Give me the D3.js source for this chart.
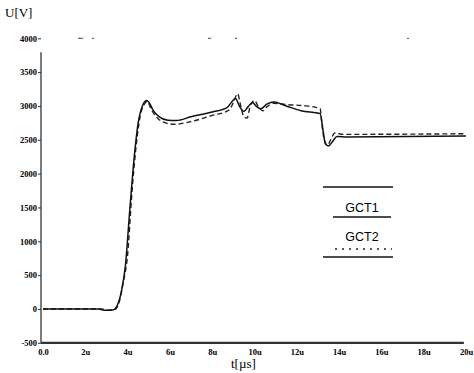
<!DOCTYPE html>
<html><head><meta charset="utf-8">
<script src="https://cdn.jsdelivr.net/npm/d3@7"></script>
<style>body{margin:0;background:#fff}svg{display:block}</style>
</head><body><svg id="c" width="474" height="373"></svg>
<script>
const xTickValues = [0,2,4,6,8,10,12,14,16,18,20];
const xTickLabels = ["0.0","2u","4u","6u","8u","10u","12u","14u","16u","18u","20u"];
const yTickValues = [4000,3500,3000,2500,2000,1500,1000,500,0,-500];
const yTickLabels = ["4000","3500","3000","2500","2000","1500","1000","500","0","-500"];
const seriesNames = ["GCT1","GCT2"];
const gct1T = [0,2.6,2.9,3.3,3.45,3.7,3.9,4.1,4.3,4.5,4.7,4.9,5.0,5.2,5.5,5.9,6.3,7,8,8.7,8.95,9.1,9.3,9.5,9.7,9.9,10.1,10.3,10.6,10.9,11.5,12.2,13.1,13.25,13.35,13.5,13.7,13.9,14.4,20];
const gct1V = [0,0,-20,-15,20,250,650,1450,2200,2750,3000,3080,3060,2940,2840,2790,2785,2840,2910,2975,3070,3110,2990,2920,2990,3050,2990,2960,3030,3060,3000,2930,2890,2620,2440,2410,2480,2550,2540,2555];
const gct2T = [0,2.8,3.0,3.4,3.6,3.8,4.0,4.2,4.4,4.6,4.8,4.94,5.1,5.3,5.7,6.2,7,8,8.8,9.0,9.2,9.35,9.5,9.65,9.8,10.0,10.2,10.4,10.6,10.9,11.5,12.3,12.9,13.1,13.2,13.3,13.45,13.6,13.8,14.2,20];
const gct2V = [0,0,-20,-10,100,400,800,1700,2400,2860,3030,3070,2960,2860,2760,2730,2770,2860,2940,3050,3180,3000,2840,2820,3000,3080,2980,2930,2990,3040,3020,3005,2980,2960,2700,2500,2420,2500,2600,2580,2590];

const svg = d3.select("#c");
const x = d3.scaleLinear().domain([0,20]).range([43,466]);
const y = d3.scaleLinear().domain([-500,4000]).range([342.8,38.3]);

// top faint border (mostly lost in the scan)
svg.append("line").attr("x1",x(0)).attr("x2",x(20)).attr("y1",y(4000)).attr("y2",y(4000))
  .attr("stroke","#444").attr("stroke-width",1).attr("stroke-dasharray","0 35 5 9 2 114 3 24 2 170 2 200");

// y axis
const yAxis = d3.axisLeft(y).tickValues(yTickValues).tickSize(3)
  .tickFormat((d,i)=>yTickLabels[i]);
const gy = svg.append("g").attr("transform",`translate(${x(0)-2},0)`).call(yAxis);
gy.select(".domain").attr("stroke","#222").attr("stroke-width",1.2).attr("d",`M0,${y(4000)+14}V${y(-500)}`);
gy.selectAll(".tick line").attr("stroke","#333");
gy.selectAll(".tick text").attr("font-family","Liberation Serif").attr("font-size",8.5).attr("font-weight","bold").attr("fill","#000").attr("x",-4);

// x axis
const xAxis = d3.axisBottom(x).tickValues(xTickValues).tickSize(0)
  .tickFormat((d,i)=>xTickLabels[i]);
const gx = svg.append("g").attr("transform",`translate(0,${y(-500)})`).call(xAxis);
gx.select(".domain").attr("stroke","#333").attr("stroke-width",2.2).attr("d",`M${x(0)-2},0H${x(19.9)}`);
gx.selectAll(".tick text").attr("font-family","Liberation Serif").attr("font-size",8.5).attr("font-weight","bold").attr("fill","#000").attr("dy","1.05em");

// curves
const line = d3.line().x(d=>x(d[0])).y(d=>y(d[1])).curve(d3.curveMonotoneX);
const d1 = gct1T.map((t,i)=>[t,gct1V[i]]);
const d2 = gct2T.map((t,i)=>[t,gct2V[i]]);
svg.append("path").attr("d",line(d2)).attr("fill","none").attr("stroke","#222").attr("stroke-width",1.4).attr("stroke-dasharray","5 3");
svg.append("path").attr("d",line(d1)).attr("fill","none").attr("stroke","#111").attr("stroke-width",1.5);

// legend
const lg = svg.append("g");
lg.append("line").attr("x1",323).attr("x2",393).attr("y1",187).attr("y2",187).attr("stroke","#111").attr("stroke-width",1.4);
lg.append("text").attr("x",362).attr("y",212).attr("text-anchor","middle").attr("font-family","Liberation Sans").attr("font-size",12.5).attr("fill","#000").text(seriesNames[0]);
lg.append("line").attr("x1",333).attr("x2",391).attr("y1",217).attr("y2",217).attr("stroke","#111").attr("stroke-width",1.5);
lg.append("text").attr("x",362).attr("y",241).attr("text-anchor","middle").attr("font-family","Liberation Sans").attr("font-size",12.5).attr("fill","#000").text(seriesNames[1]);
lg.append("line").attr("x1",335).attr("x2",392).attr("y1",249).attr("y2",249).attr("stroke","#222").attr("stroke-width",1.3).attr("stroke-dasharray","2 5");
lg.append("line").attr("x1",323).attr("x2",393).attr("y1",257).attr("y2",257).attr("stroke","#111").attr("stroke-width",1.4);

// axis titles
svg.append("text").attr("x",5).attr("y",17).attr("font-family","Liberation Serif").attr("font-size",13).attr("fill","#000").text("U[V]");
svg.append("text").attr("x",231).attr("y",368).attr("font-family","Liberation Serif").attr("font-size",13).attr("fill","#000").text("t[µs]");
</script></body></html>
